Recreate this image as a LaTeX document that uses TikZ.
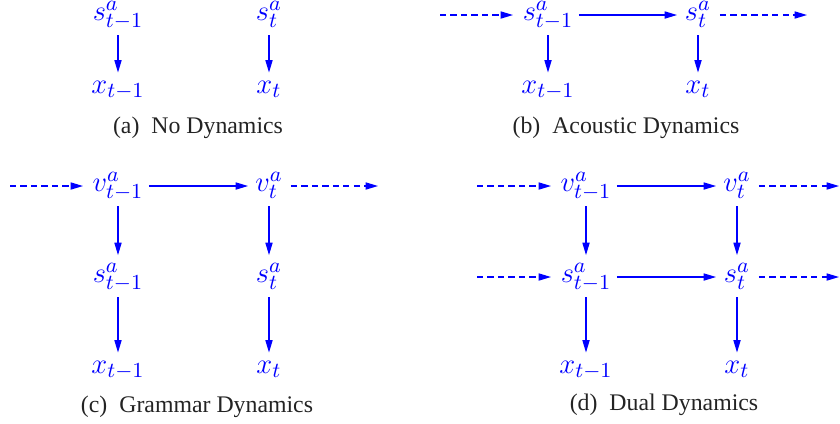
\documentclass[tikz,border=0pt]{standalone}
\usepackage{fontspec}
\setmainfont{Liberation Serif}
\newfontfamily\capfont{Liberation Serif}
\usetikzlibrary{arrows.meta}
\begin{document}
\begin{tikzpicture}[x=0.42pt,y=-0.42pt,
  var/.style={inner sep=0pt, text=blue, font=\fontsize{12.5}{15}\selectfont},
  arr/.style={draw=blue, line width=0.5pt, -{Triangle[length=5.2pt,width=3pt]}},
  dsh/.style={arr, dash pattern=on 2.6pt off 1.8pt},
  vdown/.style={shorten <=8.4pt, shorten >=6.5pt},
  vdowns/.style={shorten <=8.6pt, shorten >=9.2pt},
  hin/.style={shorten >=14.7pt},
  hmid/.style={shorten <=13pt, shorten >=8.8pt},
  hout/.style={shorten <=9.2pt},
  captxt/.style={inner sep=0pt, text={rgb,255:red,35;green,35;blue,35}, font=\capfont\fontsize{10}{12}\selectfont}
]
\useasboundingbox (0,0) rectangle (840,423);
% (a)
\node[var,anchor=mid] (as1) at (118,15) {$s^a_{t-1}$};
\node[var,anchor=mid] (as2) at (269,15) {$s^a_{t}$};
\node[var,anchor=mid] (ax1) at (118,88) {$x_{t-1}$};
\node[var,anchor=mid] (ax2) at (269,88) {$x_{t}$};
\draw[arr,vdown] (as1.mid) -- (ax1.mid);
\draw[arr,vdown] (as2.mid) -- (ax2.mid);
\node[captxt] (capa) at (198,128) {(a)\ \ No Dynamics};
% (b)
\node[var,anchor=mid] (bs1) at (548,15) {$s^a_{t-1}$};
\node[var,anchor=mid] (bs2) at (698,15) {$s^a_{t}$};
\node[var,anchor=mid] (bx1) at (548,88) {$x_{t-1}$};
\node[var,anchor=mid] (bx2) at (698,88) {$x_{t}$};
\coordinate (bl) at (440,15);
\coordinate (br) at (807,15);
\draw[dsh,hin] (bl) -- (bs1.mid);
\draw[arr,hmid] (bs1.mid) -- (bs2.mid);
\draw[dsh,hout] (bs2.mid) -- (br);
\draw[arr,vdown] (bs1.mid) -- (bx1.mid);
\draw[arr,vdown] (bs2.mid) -- (bx2.mid);
\node[captxt] (capb) at (626,128) {(b)\ \ Acoustic Dynamics};
% (c)
\node[var,anchor=mid] (cv1) at (118,186) {$v^a_{t-1}$};
\node[var,anchor=mid] (cv2) at (269,186) {$v^a_{t}$};
\node[var,anchor=mid] (cs1) at (118,277) {$s^a_{t-1}$};
\node[var,anchor=mid] (cs2) at (269,277) {$s^a_{t}$};
\node[var,anchor=mid] (cx1) at (118,368) {$x_{t-1}$};
\node[var,anchor=mid] (cx2) at (269,368) {$x_{t}$};
\coordinate (cl) at (10,186);
\coordinate (cr) at (378,186);
\draw[dsh,hin] (cl) -- (cv1.mid);
\draw[arr,hmid] (cv1.mid) -- (cv2.mid);
\draw[dsh,hout] (cv2.mid) -- (cr);
\draw[arr,vdowns] (cv1.mid) -- (cs1.mid);
\draw[arr,vdowns] (cv2.mid) -- (cs2.mid);
\draw[arr,vdown] (cs1.mid) -- (cx1.mid);
\draw[arr,vdown] (cs2.mid) -- (cx2.mid);
\node[captxt] (capc) at (197,407) {(c)\ \ Grammar Dynamics};
% (d)
\node[var,anchor=mid] (dv1) at (586,186) {$v^a_{t-1}$};
\node[var,anchor=mid] (dv2) at (737,186) {$v^a_{t}$};
\node[var,anchor=mid] (ds1) at (586,277) {$s^a_{t-1}$};
\node[var,anchor=mid] (ds2) at (737,277) {$s^a_{t}$};
\node[var,anchor=mid] (dx1) at (586,368) {$x_{t-1}$};
\node[var,anchor=mid] (dx2) at (737,368) {$x_{t}$};
\coordinate (dlv) at (477,186);
\coordinate (drv) at (839,186);
\coordinate (dls) at (477,277);
\coordinate (drs) at (839,277);
\draw[dsh,hin] (dlv) -- (dv1.mid);
\draw[arr,hmid] (dv1.mid) -- (dv2.mid);
\draw[dsh,hout] (dv2.mid) -- (drv);
\draw[dsh,hin] (dls) -- (ds1.mid);
\draw[arr,hmid] (ds1.mid) -- (ds2.mid);
\draw[dsh,hout] (ds2.mid) -- (drs);
\draw[arr,vdowns] (dv1.mid) -- (ds1.mid);
\draw[arr,vdowns] (dv2.mid) -- (ds2.mid);
\draw[arr,vdown] (ds1.mid) -- (dx1.mid);
\draw[arr,vdown] (ds2.mid) -- (dx2.mid);
\node[captxt] (capd) at (664,405) {(d)\ \ Dual Dynamics};
\end{tikzpicture}
\end{document}
